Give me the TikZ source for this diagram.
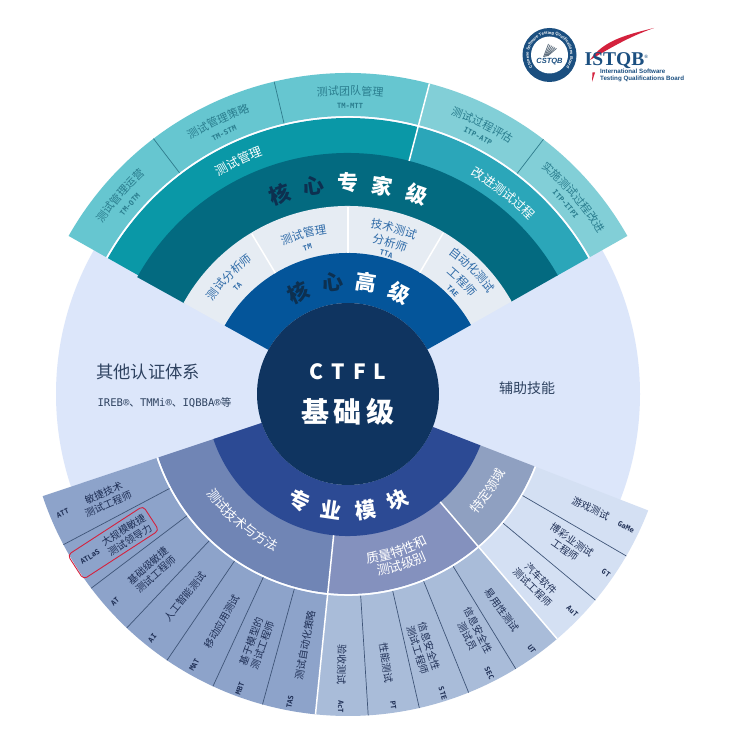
\documentclass[tikz,border=0pt]{standalone}
\usepackage{fontspec}
\usetikzlibrary{decorations.text}
\setmainfont{Liberation Sans}
\newfontfamily\cjk{Noto Sans CJK SC}
\newfontfamily\mono{DejaVu Sans Mono}
\newfontfamily\serifb{Liberation Serif}
\definecolor{lightbg}{HTML}{DCE6FA}
\definecolor{topa}{HTML}{66C6D0}
\definecolor{topb}{HTML}{82CFD7}
\definecolor{mida}{HTML}{0A98A7}
\definecolor{midb}{HTML}{2BA6B9}
\definecolor{deepteal}{HTML}{036A80}
\definecolor{pale}{HTML}{E6ECF3}
\definecolor{advblue}{HTML}{04559A}
\definecolor{navy}{HTML}{0F3460}
\definecolor{modblue}{HTML}{2C4A94}
\definecolor{ringa}{HTML}{7085B5}
\definecolor{ringb}{HTML}{8491BE}
\definecolor{ringc}{HTML}{8FA0C1}
\definecolor{outa}{HTML}{8DA3CA}
\definecolor{outb}{HTML}{A9BCD9}
\definecolor{outc}{HTML}{D4E0F3}
\definecolor{inkteal}{HTML}{2A7D8E}
\definecolor{inkblue}{HTML}{2F6BA8}
\definecolor{inkdark}{HTML}{1F2F55}
\definecolor{inkslate}{HTML}{2E4260}
\definecolor{inktitle}{HTML}{0D3050}
\definecolor{logoblue}{HTML}{1B4F80}
\definecolor{logored}{HTML}{D4213D}
\definecolor{divteal}{HTML}{2F7C8C}
\definecolor{divblue}{HTML}{3F5578}
\newcommand{\fs}[1]{\fontsize{#1}{#1}\selectfont}
\newcommand{\ringsec}[5]{\fill[#5] (#3:#1pt) arc[start angle=#3,end angle=#4,radius=#1pt] -- (#4:#2pt) arc[start angle=#4,end angle=#3,radius=#2pt] -- cycle;}
% text on an arc, read clockwise (upper half)
\newcommand{\arctop}[4]{\pgfmathsetmacro{\aa}{#2+45}\pgfmathsetmacro{\ab}{#2-45}%
 \path[decorate,decoration={text along path,text align=center,text={|#3|#4}}] (\aa:#1pt) arc[start angle=\aa,end angle=\ab,radius=#1pt];}
% text on an arc, read anticlockwise (lower half)
\newcommand{\arcbot}[4]{\pgfmathsetmacro{\aa}{#2-35}\pgfmathsetmacro{\ab}{#2+35}%
 \path[decorate,decoration={text along path,text align=center,text={|#3|#4}}] (\aa:#1pt) arc[start angle=\aa,end angle=\ab,radius=#1pt];}
\newcommand{\lab}[5]{\node[#4,rotate=#3] at ({#1},{745-#2}) {#5};}
\tikzset{
 cjkline/.style={font=\cjk\fs{10},text=inkdark,align=center,inner sep=0pt},
 abbr/.style={font=\mono\bfseries\fs{7.2},text=inkdark,inner sep=0pt},
 whitediv/.style={white,line width=1.5pt},
 tealdiv/.style={divteal,line width=.7pt},
 bluediv/.style={divblue,line width=.7pt},
 bigchar/.style={font=\cjk\bfseries\fs{21},inner sep=0pt}
}
\begin{document}
\begin{tikzpicture}[x=1pt,y=1pt]
\useasboundingbox (0,0) rectangle (736,745);
\fill[white] (0,0) rectangle (736,745);
\begin{scope}[shift={(348,351)}]
 % background disc
 \fill[lightbg] (0,0) circle[radius=292pt];
 % upper fan
 \ringsec{278}{321}{150.5}{75.3}{topa}
 \ringsec{278}{321}{75.3}{29.5}{topb}
 \ringsec{240}{276}{150.5}{75.3}{mida}
 \ringsec{240}{276}{75.3}{29.5}{midb}
 \ringsec{187}{241}{151}{29.5}{deepteal}
 \ringsec{141}{188}{151}{29.5}{pale}
 \ringsec{91}{141}{151}{29.3}{advblue}
 % lower fan
 \ringsec{202}{322}{198.5}{264.2}{outa}
 \ringsec{202}{322}{264.2}{310.5}{outb}
 \ringsec{202}{322}{310.5}{338.8}{outc}
 \ringsec{141}{200}{198.5}{264.2}{ringa}
 \ringsec{141}{200}{264.2}{310.5}{ringb}
 \ringsec{141}{200}{310.5}{338.8}{ringc}
 \ringsec{91}{142}{198.5}{338.8}{modblue}
 % white boundaries, upper
 \draw[whitediv] (150.5:277pt) arc[start angle=150.5,end angle=29.5,radius=277pt];
 \draw[whitediv] (75.3:241pt) -- (75.3:321pt);
 \foreach \ang in {59.4,90,121} \draw[whitediv] (\ang:141pt) -- (\ang:187pt);
 \foreach \ang in {52.5,103.3,127.3} \draw[tealdiv] (\ang:278pt) -- (\ang:321pt);
 % white boundaries, lower
 \draw[whitediv] (198.5:201pt) arc[start angle=198.5,end angle=338.8,radius=201pt];
 \draw[whitediv] (264.2:142pt) -- (264.2:322pt);
 \draw[whitediv] (310.5:142pt) -- (310.5:322pt);
 \foreach \ang in {207.9,217.1,226.6,235.8,245.2,254.6,273.6,282.8,292,301.4,320.2,329.8}
  \draw[bluediv] (\ang:202pt) -- (\ang:322pt);
 % centre
 \fill[navy] (0,0) circle[radius=91pt];
 % curved labels, upper outer ring
 \arctop{299}{139}{\cjk\fs{11}\color{inkteal}}{测试管理运营}
 \arctop{286.5}{139}{\mono\bfseries\fs{7.2}\color{inkteal}}{TM-OTM}
 \arctop{299}{115.5}{\cjk\fs{11}\color{inkteal}}{测试管理策略}
 \arctop{286.5}{115.4}{\mono\bfseries\fs{7.2}\color{inkteal}}{TM-STM}
 \arctop{299}{89.6}{\cjk\fs{11}\color{inkteal}}{测试团队管理}
 \arctop{286}{89.6}{\mono\bfseries\fs{7.2}\color{inkteal}}{TM-MTT}
 \arctop{298}{63.5}{\cjk\fs{11}\color{inkteal}}{测试过程评估}
 \arctop{286.5}{63.3}{\mono\bfseries\fs{7.2}\color{inkteal}}{ITP-ATP}
 \arctop{298}{41.1}{\cjk\fs{11}\color{inkteal}}{实施测试过程改进}
 \arctop{286.5}{41.1}{\mono\bfseries\fs{7.2}\color{inkteal}}{ITP-ITPI}
 % curved labels, teal ring
 \arctop{253}{115.2}{\cjk\fs{12.5}\color{white}}{测试管理}
 \arctop{251}{52.2}{\cjk\fs{12.5}\color{white}}{改进测试过程}
 % curved labels, pale ring
 \arctop{164}{135.5}{\cjk\fs{11.5}\color{inkblue}}{测试分析师}
 \arctop{151.5}{135.8}{\mono\bfseries\fs{7.2}\color{inkblue}}{TA}
 \arctop{162}{105.6}{\cjk\fs{11.5}\color{inkblue}}{测试管理}
 \arctop{149.5}{105.5}{\mono\bfseries\fs{7.2}\color{inkblue}}{TM}
 \arctop{168}{74.5}{\cjk\fs{11.5}\color{inkblue}}{技术测试}
 \arctop{153}{74.5}{\cjk\fs{11.5}\color{inkblue}}{分析师}
 \arctop{142.5}{74.7}{\mono\bfseries\fs{7.2}\color{inkblue}}{TTA}
 \arctop{173}{45}{\cjk\fs{11.5}\color{inkblue}}{自动化测试}
 \arctop{156}{44.5}{\cjk\fs{11.5}\color{inkblue}}{工程师}
 \arctop{144.5}{44.6}{\mono\bfseries\fs{7.2}\color{inkblue}}{TAE}
 % curved labels, lower ring
 \arcbot{173}{230.1}{\cjk\fs{13}\color{white}}{测试技术与方法}
 \arcbot{170}{287.3}{\cjk\fs{13}\color{white}}{质量特性和}
 \arcbot{184}{287.4}{\cjk\fs{13}\color{white}}{测试级别}
 \arcbot{176}{325.2}{\cjk\fs{13}\color{white}}{特定领域}
 % large titles
 \foreach \ch/\ang/\col in {核/109/inktitle,心/99.5/inktitle,专/90/white,家/80.8/white,级/71/white}
  \node[bigchar,text=\col,rotate=\ang-90] at (\ang:211pt) {\ch};
 \foreach \ch/\ang/\col in {核/116/inktitle,心/98/inktitle,高/81/white,级/63/white}
  \node[bigchar,text=\col,rotate=\ang-90] at (\ang:113pt) {\ch};
 \foreach \ch/\ang in {专/245.6,业/261.5,模/278.5,块/295.3}
  \node[bigchar,text=white,rotate=\ang+90] at (\ang:117pt) {\ch};
\end{scope}
% radial labels, left group
\lab{62.7}{513.3}{23.2}{abbr}{ATT}
\lab{106}{498.3}{23.2}{cjkline}{敏捷技术\\[2pt]测试工程师}
\lab{90}{556.7}{32.4}{abbr}{ATLaS}
\lab{126.7}{535}{32.4}{cjkline}{大规模敏捷\\[2pt]测试领导力}
\lab{115}{601.7}{41.8}{abbr}{AT}
\lab{151.7}{570}{41.8}{cjkline}{基础级敏捷\\[2pt]测试工程师}
\lab{152.3}{638.3}{51.2}{abbr}{AI}
\lab{185}{596.7}{51.2}{cjkline}{人工智能测试}
\lab{194.3}{665}{60.5}{abbr}{MAT}
\lab{221.7}{621.7}{60.5}{cjkline}{移动应用测试}
\lab{240}{688.3}{69.9}{abbr}{MBT}
\lab{256.7}{643.3}{69.9}{cjkline}{基于模型的\\[2pt]测试工程师}
\lab{290}{701.7}{79.4}{abbr}{TAS}
\lab{305}{645}{79.4}{cjkline}{测试自动化策略}
% radial labels, middle group
\lab{340.7}{706.7}{-91.1}{abbr}{AcT}
\lab{341.7}{665}{-91.1}{cjkline}{验收测试}
\lab{393.3}{705}{-81.8}{abbr}{PT}
\lab{386}{662.7}{-81.8}{cjkline}{性能测试}
\lab{442.7}{693.3}{-72.6}{abbr}{STE}
\lab{423.3}{648.3}{-72.6}{cjkline}{信息安全性\\[2pt]测试工程师}
\lab{489.3}{673.3}{-63.3}{abbr}{SEC}
\lab{472.7}{633.3}{-63.3}{cjkline}{信息安全性\\[2pt]测试员}
\lab{531.7}{649.3}{-54}{abbr}{UT}
\lab{501.7}{610}{-54}{cjkline}{易用性测试}
% radial labels, right group
\lab{572.3}{611}{-44.6}{abbr}{AuT}
\lab{536.7}{583.3}{-44.6}{cjkline}{汽车软件\\[2pt]测试工程师}
\lab{606}{573.3}{-35}{abbr}{GT}
\lab{568.3}{545}{-35}{cjkline}{博彩业测试\\[2pt]工程师}
\lab{626}{527.3}{-25.4}{abbr}{GaMe}
\lab{590.7}{508.3}{-25.4}{cjkline}{游戏测试}
% highlight
\node[draw=logored,line width=.9pt,rounded corners=4pt,rotate=33,minimum width=90pt,minimum height=29pt,inner sep=0pt] (atlasbox) at (113.3,202.3) {};
% centre and side labels
\node[font=\cjk\bfseries\fs{21},text=white,inner sep=0pt] (ctfl) at (348,373) {C\hspace{8pt}T\hspace{8pt}F\hspace{8pt}L};
\node[font=\cjk\bfseries\fs{28},text=white,inner sep=0pt] (basic) at (348,333) {基\hspace{5pt}础\hspace{5pt}级};
\node[font=\cjk\fs{17.3},text=inkslate,inner sep=0pt] (other) at (148,373) {其他认证体系};
\node[font=\mono\fs{10.6},text=inkslate,inner sep=0pt] (otherlist) at (164.5,342) {IREB®{\cjk 、}TMMi®{\cjk 、}IQBBA®{\cjk 等}};
\node[font=\cjk\fs{14},text=inkslate,inner sep=0pt] (aux) at (527,357) {辅助技能};
% logo
\begin{scope}[shift={(549.5,690)}]
 \fill[logoblue] (0,0) circle[radius=27pt];
 \fill[white] (0,0) circle[radius=18.5pt];
 \path[decorate,decoration={text along path,text align=center,text={|\bfseries\fs{4.1}\color{white}|Chinese Software Testing Qualifications Board}}] (235:20.8pt) arc[start angle=235,end angle=-55,radius=20.8pt];
 \foreach \off in {0,1.6,3.2,4.8,6.4,8}
  \draw[gray!70!logoblue,line width=.8pt] (-6+\off*.55,-2+\off*.15) -- (-1+\off,11-\off*.55);
 \node[font=\bfseries\itshape\fs{7.5},text=logoblue,inner sep=.6pt,fill=white] (cstqb) at (0,-6.5) {CSTQB};
\end{scope}
\fill[logored] (654,717) .. controls (625,710) and (603,704) .. (590,685) .. controls (607,695) and (628,708) .. cycle;
\fill[logored] (592.5,672.5) -- (595,672.5) -- (592,663) -- cycle;
\node[font=\serifb\bfseries\fs{19.5},text=logoblue,inner sep=0pt,anchor=west] (istqb) at (584.5,684.5) {ISTQB\raisebox{7pt}{\fs{5}®}};
\node[font=\bfseries\fs{6.2},text=logoblue,inner sep=0pt,anchor=west,align=left] (board) at (600,669.5) {International Software\\[1pt]Testing Qualifications Board};
\end{tikzpicture}
\end{document}
